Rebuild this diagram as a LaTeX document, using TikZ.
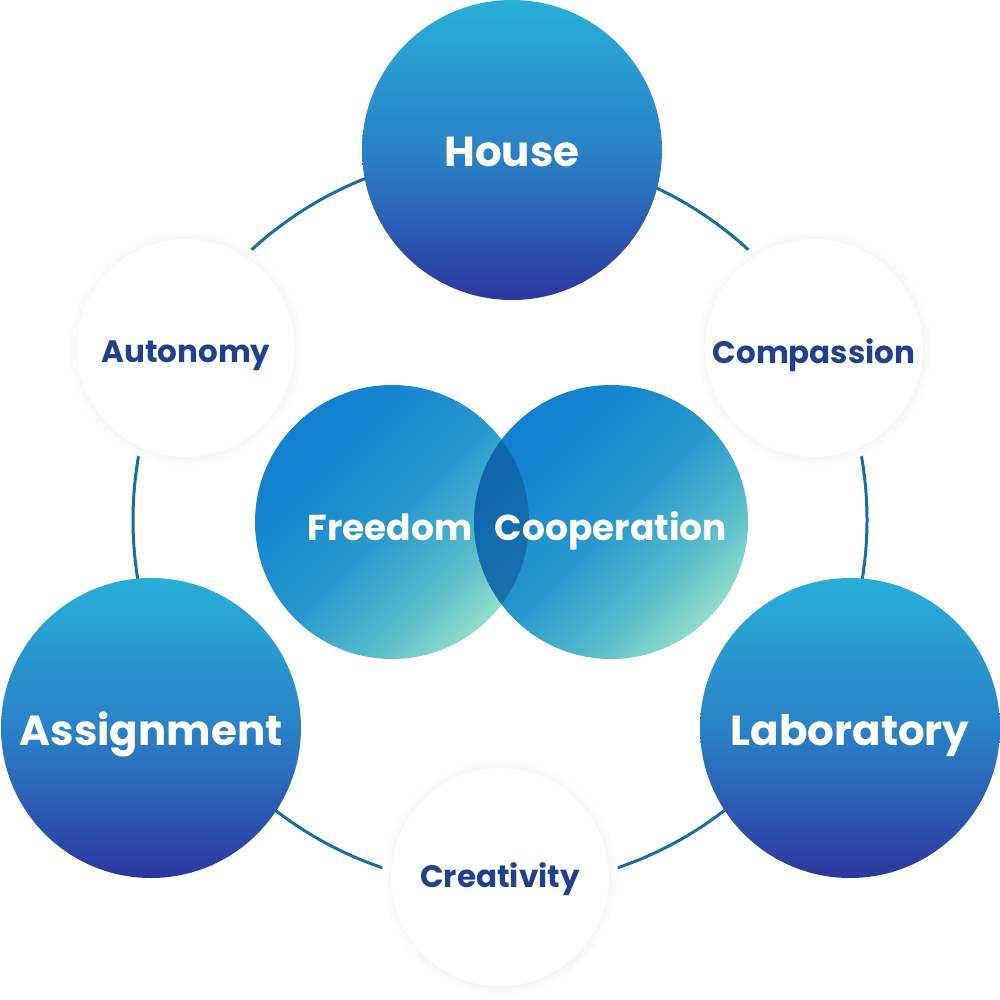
\documentclass[tikz,border=0pt]{standalone}
\usepackage{fontspec}
\setmainfont{Poppins}
\usetikzlibrary{shadows}
\definecolor{bigtop}{HTML}{28AED8}
\definecolor{bigmid}{HTML}{2A82C8}
\definecolor{bigbot}{HTML}{2C379E}
\definecolor{ringcol}{HTML}{1A6CA4}
\definecolor{labcol}{HTML}{21408F}
\definecolor{vA}{HTML}{1282D0}
\definecolor{vB}{HTML}{2898CE}
\definecolor{vC}{HTML}{55BBCB}
\definecolor{vD}{HTML}{95E0CA}
\definecolor{ovl}{HTML}{0A326E}
\pgfdeclarehorizontalshading{vennshade}{100bp}{color(0bp)=(vA); color(30bp)=(vA); color(50bp)=(vB); color(64bp)=(vC); color(76bp)=(vD); color(100bp)=(vD)}
\tikzset{
  bigcirc/.style={circle, minimum size=150pt, inner sep=0pt, draw=none, top color=bigtop, bottom color=bigbot, middle color=bigmid},
  venncirc/.style={circle, minimum size=137pt, inner sep=0pt, draw=none, shading=vennshade, shading angle=-45},
  halo/.style={circle, minimum size=118pt, inner sep=0pt, fill=white, draw=none},
  palecirc/.style={circle, minimum size=109pt, inner sep=0pt, fill=white, draw=none,
     circular drop shadow={shadow xshift=0pt, shadow yshift=0pt, shadow scale=1.08, opacity=0.13}},
  bigtxt/.style={anchor=base, inner sep=0pt, text=white, font=\bfseries\fontsize{21}{21}\selectfont},
  venntxt/.style={anchor=base, inner sep=0pt, text=white, font=\bfseries\fontsize{18}{18}\selectfont},
  paletxt/.style={anchor=base, inner sep=0pt, text=labcol, font=\bfseries\fontsize{15.5}{15.5}\selectfont},
  ringline/.style={draw=ringcol, line width=1.5pt}
}
\begin{document}
\begin{tikzpicture}[x=0.5pt, y=-0.5pt]
\path[use as bounding box, fill=white] (0,0) rectangle (1000,1000);
\coordinate (ringc) at (500,520);
\draw[ringline] (ringc) circle[radius=183.5pt];
% halos cutting the ring
\node[halo] (hA) at (186,348) {};
\node[halo] (hB) at (814,348) {};
\node[halo] (hC) at (500,877) {};
% big circles
\node[bigcirc] (house) at (512,150) {};
\node[bigcirc] (assign) at (151,728) {};
\node[bigcirc] (lab) at (850,728) {};
% white circles
\node[palecirc] (auto) at (186,348) {};
\node[palecirc] (comp) at (814,348) {};
\node[palecirc] (crea) at (500,877) {};
% venn circles
\node[venncirc] (free) at (392,522) {};
\node[venncirc] (coop) at (611,522) {};
\begin{scope}
  \clip (free.center) circle[radius=68.5pt];
  \fill[ovl, fill opacity=0.35] (coop.center) circle[radius=68.5pt];
\end{scope}
% texts
\node[bigtxt] (houseT) at (512,167) {House};
\node[bigtxt] (assignT) at (151,745) {Assignment};
\node[bigtxt] (labT) at (850,745) {Laboratory};
\node[venntxt] (freeT) at (390,540) {Freedom};
\node[venntxt] (coopT) at (611,540) {Cooperation};
\node[paletxt] (autoT) at (186,362) {Autonomy};
\node[paletxt] (compT) at (814,363) {Compassion};
\node[paletxt] (creaT) at (500,887) {Creativity};
\end{tikzpicture}
\end{document}
